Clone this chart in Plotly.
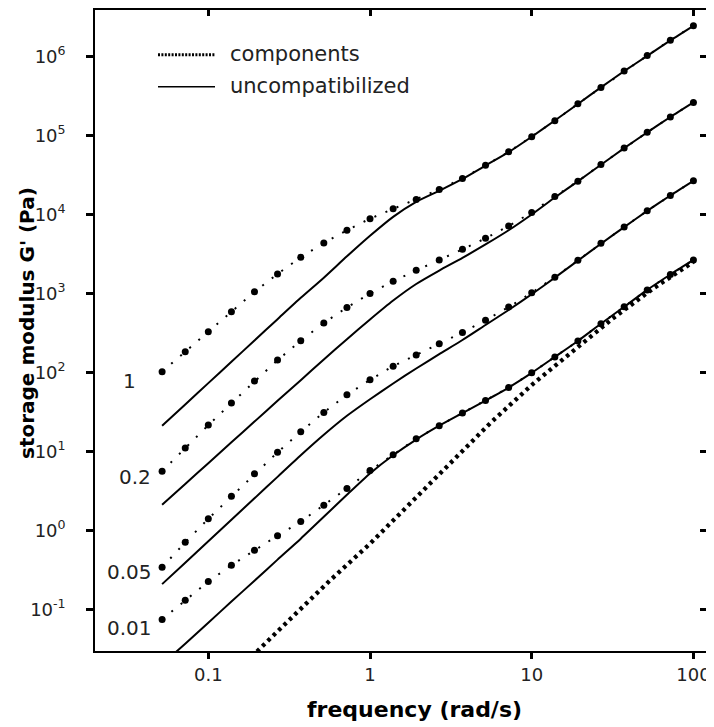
import plotly.graph_objects as go

# ---------------- data ----------------
freq = [0.0518, 0.072, 0.1, 0.139, 0.193, 0.268, 0.373, 0.518, 0.72, 1.0,
        1.39, 1.93, 2.68, 3.73, 5.18, 7.2, 10, 13.9, 19.3, 26.8, 37.3, 51.8, 72, 100]

comp_1 = [102, 183, 327, 586, 1047, 1766, 2871, 4355, 6310, 8851, 11830, 15490,
          20750, 28580, 42070, 62090, 96830, 154200, 252900, 406400, 654600,
          1.03e6, 1.61e6, 2.46e6]
uncomp_1 = [21.1, 39.3, 73.1, 136, 254, 472, 879, 1585, 2951, 5370, 9330, 14450,
            19950, 28180, 41690, 61660, 96600, 154900, 251200, 407400, 653100,
            1.023e6, 1.603e6, 2.455e6]

comp_02 = [5.59, 11.0, 21.5, 40.8, 77.5, 143, 252, 422, 665, 1000, 1430, 1970,
           2660, 3620, 4990, 7150, 10600, 16900, 26400, 43000, 69700, 110000,
           172000, 262000]
uncomp_02 = [2.10, 3.86, 7.08, 13.0, 23.8, 43.7, 79.4, 146, 263, 468, 813, 1318,
             1950, 2818, 4169, 6310, 10000, 16400, 26300, 42660, 69180, 109600,
             171800, 263000]

comp_005 = [0.340, 0.703, 1.40, 2.70, 5.19, 9.71, 17.7, 31.1, 52.0, 80.4, 120, 166,
            231, 321, 456, 671, 1019, 1607, 2630, 4315, 6934, 11170, 17420, 26730]
uncomp_005 = [0.208, 0.388, 0.726, 1.36, 2.54, 4.75, 8.91, 16.2, 28.2, 45.7, 72.4,
              112, 170, 257, 398, 617, 977, 1585, 2600, 4266, 6918, 11090, 17380, 26610]

comp_001 = [0.0743, 0.130, 0.224, 0.361, 0.557, 0.855, 1.29, 2.08, 3.38, 5.70, 9.08,
            14.4, 21.1, 30.6, 44.1, 64.3, 98.6, 157, 250, 413, 678, 1109, 1738, 2655]
uncomp_001 = [0.0200, 0.0366, 0.0676, 0.125, 0.230, 0.425, 0.783, 1.48, 2.82, 5.25,
              8.91, 14.1, 21.1, 30.5, 44.0, 64.3, 98.6, 157, 250, 413, 677, 1109,
              1738, 2655]

matrix_freq = [0.2, 0.316, 0.562, 1.0, 1.78, 3.16, 5.62, 10, 17.8, 31.6, 56.2, 100]
matrix_g = [0.0292, 0.0729, 0.229, 0.676, 2.19, 7.24, 23.4, 69.2, 186, 479, 1148, 2512]

curve_labels = ["1", "0.2", "0.05", "0.01"]

x_tickvals = [0.1, 1, 10, 100]
x_ticktext = ["0.1", "1", "10", "100"]
y_tickvals = [1e-1, 1e0, 1e1, 1e2, 1e3, 1e4, 1e5, 1e6]
y_ticktext = ["10<sup>-1</sup>", "10<sup>0</sup>", "10<sup>1</sup>", "10<sup>2</sup>",
              "10<sup>3</sup>", "10<sup>4</sup>", "10<sup>5</sup>", "10<sup>6</sup>"]

# ---------------- layout geometry ----------------
# the page body has an 8px margin, so the figure is drawn 8px in from the window
OFF = 8
W, H = 714 - OFF, 727 - OFF
PLOT_L, PLOT_R, PLOT_T, PLOT_B = 95, 707, 8, 651      # window pixels
L, R, T = PLOT_L - OFF, W - (PLOT_R - OFF), PLOT_T - OFF
B = H - (PLOT_B - OFF)


def px(x):
    return (x - PLOT_L) / (PLOT_R - PLOT_L)


def py(y):
    return (PLOT_B - y) / (PLOT_B - PLOT_T)


XR = [-1.7007, 2.084]
YR = [-1.529, 6.590]

FONT = "DejaVu Sans"
TXT = "#222222"

fig = go.Figure()

comp_style = dict(mode="lines+markers",
                  line=dict(color="black", width=2, dash="2px,10px"),
                  marker=dict(color="black", size=7))
unc_style = dict(mode="lines", line=dict(color="black", width=2, shape="spline",
                                         smoothing=0.6))

for comp, unc in [(comp_1, uncomp_1), (comp_02, uncomp_02),
                  (comp_005, uncomp_005), (comp_001, uncomp_001)]:
    fig.add_trace(go.Scatter(x=freq, y=unc, showlegend=False, **unc_style))
    fig.add_trace(go.Scatter(x=freq, y=comp, showlegend=False, **comp_style))

fig.add_trace(go.Scatter(x=matrix_freq, y=matrix_g, mode="lines", showlegend=False,
                         line=dict(color="black", width=4.3, dash="3.5px,4px")))

# dummy trace for the mirrored (inside) tick axes
fig.add_trace(go.Scatter(x=[], y=[], xaxis="x2", yaxis="y2", showlegend=False))

axis_common = dict(type="log", showgrid=False, zeroline=False, color="black",
                   tickfont=dict(family=FONT, size=18, color=TXT))

fig.update_layout(
    width=W, height=H,
    margin=dict(l=L, r=R, t=T, b=B, pad=0),
    plot_bgcolor="white", paper_bgcolor="white",
    xaxis=dict(range=XR, tickvals=x_tickvals, ticktext=x_ticktext,
               ticks="outside", ticklen=6, tickwidth=2.5, tickcolor="black",
               showline=True, linewidth=1.6, linecolor="black", mirror=True,
               ticklabelstandoff=1, **axis_common),
    yaxis=dict(range=YR, tickvals=y_tickvals, ticktext=y_ticktext,
               ticks="outside", ticklen=7, tickwidth=2.5, tickcolor="black",
               showline=True, linewidth=1.6, linecolor="black", mirror=True,
               ticklabelstandoff=17, **axis_common),
    xaxis2=dict(type="log", range=XR, overlaying="x", side="top", anchor="y2",
                tickvals=x_tickvals, ticks="inside", ticklen=6, tickwidth=2.5,
                tickcolor="black", showticklabels=False, showgrid=False,
                zeroline=False, showline=False),
    yaxis2=dict(type="log", range=YR, overlaying="y", side="right", anchor="x2",
                tickvals=y_tickvals, ticks="inside", ticklen=7, tickwidth=2.5,
                tickcolor="black", showticklabels=False, showgrid=False,
                zeroline=False, showline=False),
)

# legend drawn manually
fig.add_shape(type="line", xref="paper", yref="paper", x0=px(158), x1=px(215),
              y0=py(53), y1=py(53), line=dict(color="black", width=3, dash="2px,1.4px"))
fig.add_shape(type="line", xref="paper", yref="paper", x0=px(158), x1=px(215),
              y0=py(85), y1=py(85), line=dict(color="black", width=1.6))
for txt, yy in [("components", 52), ("uncompatibilized", 84)]:
    fig.add_annotation(xref="paper", yref="paper", x=px(228), y=py(yy), text=txt,
                       showarrow=False, xanchor="left", yanchor="middle",
                       font=dict(family=FONT, size=21, color=TXT))

# curve labels
for txt, (xx, yy) in zip(curve_labels, [(138, 380), (153, 476), (154, 572), (154, 628)]):
    fig.add_annotation(xref="paper", yref="paper", x=px(xx), y=py(yy), text=txt,
                       showarrow=False, xanchor="right", yanchor="middle",
                       font=dict(family=FONT, size=20, color=TXT))

# axis titles
fig.add_annotation(xref="paper", yref="paper", x=px(414), y=py(710),
                   text="frequency (rad/s)", showarrow=False,
                   xanchor="center", yanchor="middle",
                   font=dict(family=FONT, size=22, color="black", weight="bold"))
fig.add_annotation(xref="paper", yref="paper", x=px(27), y=py(322),
                   text="storage modulus G' (Pa)", showarrow=False, textangle=-90,
                   xanchor="center", yanchor="middle",
                   font=dict(family=FONT, size=20, color="black", weight="bold"))

fig.write_html("out.html")
